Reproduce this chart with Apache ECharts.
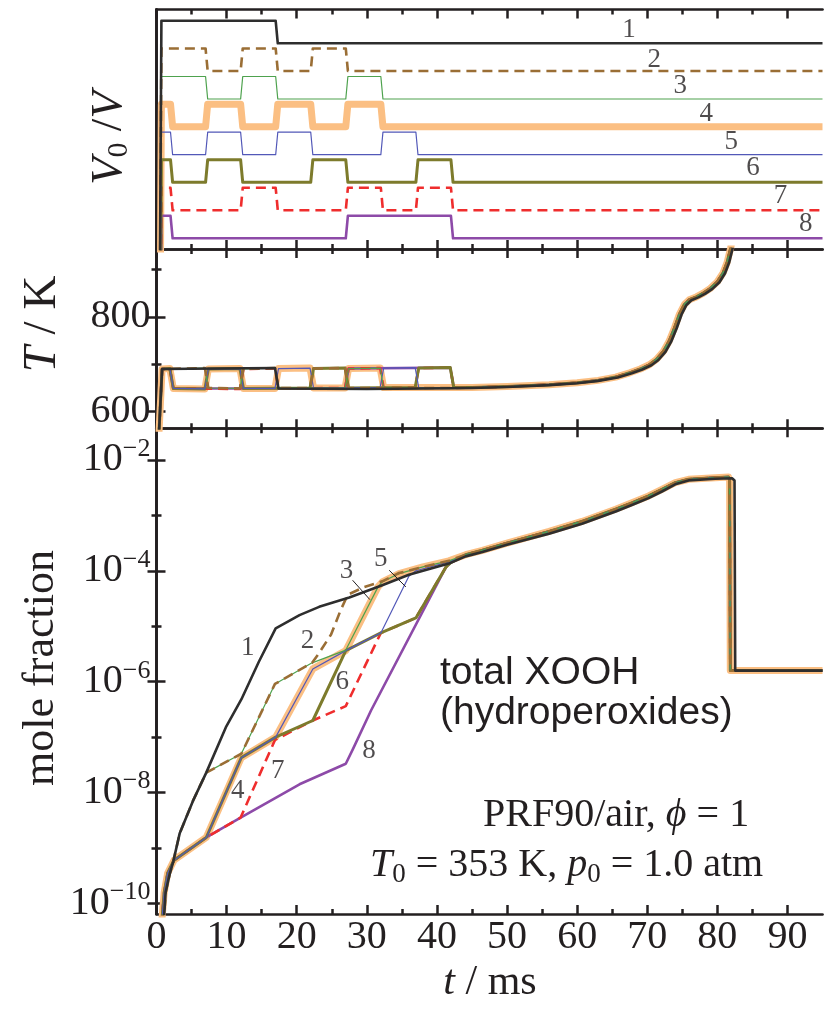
<!DOCTYPE html>
<html><head><meta charset="utf-8">
<script src="https://cdn.jsdelivr.net/npm/echarts@6/dist/echarts.min.js"></script>
<style>html,body{margin:0;padding:0;background:#fff}#c{width:836px;height:1009px}</style>
</head><body><div id="c"></div>
<script>
// ---------------- DATA ----------------
const timeTicksMajor = [0,10,20,30,40,50,60,70,80,90];
const timeTicksMinor = [5,15,25,35,45,55,65,75,85];
const tempTicksMajor = [600,800];
const tempTicksMinor = [700,900];
const logTicksMajor = [-10,-8,-6,-4,-2];
const logTicksMinor = [-9,-7,-5,-3];
const caseNames = ['1','2','3','4','5','6','7','8'];

// V0/V schedules (1 = compressed, 0 = expanded), t in ms
const vol1 = [[0.3,-20],[0.7,1],[17,1],[17.3,0],[95,0]];
const vol2 = [[0.3,-20],[0.7,1],[7,1],[7.3,0],[12,0],[12.3,1],[17,1],[17.3,0],[22,0],[22.3,1],[27,1],[27.3,0],[95,0]];
const vol3 = [[0.3,-20],[0.7,1],[7,1],[7.3,0],[12,0],[12.3,1],[17,1],[17.3,0],[27,0],[27.3,1],[32,1],[32.3,0],[95,0]];
const vol4 = [[0.3,-20],[0.7,1],[2,1],[2.3,0],[7,0],[7.3,1],[12,1],[12.3,0],[17,0],[17.3,1],[22,1],[22.3,0],[27,0],[27.3,1],[32,1],[32.3,0],[95,0]];
const vol5 = [[0.3,-20],[0.7,1],[2,1],[2.3,0],[7,0],[7.3,1],[12,1],[12.3,0],[17,0],[17.3,1],[22,1],[22.3,0],[32,0],[32.3,1],[37,1],[37.3,0],[95,0]];
const vol6 = [[0.3,-20],[0.7,1],[2,1],[2.3,0],[7,0],[7.3,1],[12,1],[12.3,0],[22,0],[22.3,1],[27,1],[27.3,0],[37,0],[37.3,1],[42,1],[42.3,0],[95,0]];
const vol7 = [[0.3,-20],[0.7,1],[2,1],[2.3,0],[12,0],[12.3,1],[17,1],[17.3,0],[27,0],[27.3,1],[32,1],[32.3,0],[37,0],[37.3,1],[42,1],[42.3,0],[95,0]];
const vol8 = [[0.3,-20],[0.7,1],[2,1],[2.3,0],[27,0],[27.3,1],[42,1],[42.3,0],[95,0]];

// Temperature / K
const tempLateBlack = [[45,650],[50,652],[56,656],[60,660],[63,665],[65.8,672],[67.8,681],[69.3,689],[70.6,698],[71.6,709],[72.6,726],[73.4,747],[74.2,776],[74.9,805],[75.6,825],[76.3,835],[77.3,841],[78.3,849],[79.3,859],[80.3,873],[81.1,892],[81.7,915],[82.2,945],[82.6,975]];
const tempLateOthers = [[45,651],[50,653],[56,657],[60,661],[63,666],[65.5,673],[67.5,682],[69,690],[70.3,699],[71.3,710],[72.3,727],[73.1,748],[73.9,777],[74.6,806],[75.3,826],[76,836],[77,842],[78,850],[79,860],[80,874],[80.8,892],[81.4,915],[81.9,945],[82.3,975]];
const temp1 = [[0.3,540],[0.8,690],[16.9,692],[17.4,649],[30,648],[42,649.5]];
const temp2 = [[0.3,540],[0.8,690],[6.9,692],[7.4,650],[11.9,649],[12.4,690],[16.9,692],[17.4,650],[21.9,650],[22.4,691],[26.9,692],[27.4,650],[42,650]];
const temp3 = [[0.3,540],[0.8,690],[6.9,692],[7.4,650],[11.9,649],[12.4,690],[16.9,692],[17.4,650],[26.9,650],[27.4,691],[31.9,692],[32.4,650],[42,650]];
const temp4 = [[0.3,540],[0.8,690],[1.9,691],[2.4,649],[6.9,648],[7.4,690],[11.9,691],[12.4,649],[16.9,649],[17.4,691],[21.9,692],[22.4,650],[26.9,650],[27.4,691],[31.9,692],[32.4,651],[42,651]];
const temp5 = [[0.3,540],[0.8,690],[1.9,691],[2.4,649],[6.9,648],[7.4,690],[11.9,691],[12.4,649],[16.9,649],[17.4,691],[21.9,692],[22.4,650],[31.9,651],[32.4,692],[36.9,693],[37.4,651],[42,651]];
const temp6 = [[0.3,540],[0.8,690],[1.9,691],[2.4,649],[6.9,648],[7.4,690],[11.9,691],[12.4,649],[21.9,650],[22.4,691],[26.9,692],[27.4,650],[36.9,651],[37.4,692],[41.9,693],[42.4,651]];
const temp7 = [[0.3,540],[0.8,690],[1.9,691],[2.4,649],[11.9,648],[12.4,690],[16.9,691],[17.4,649],[26.9,650],[27.4,691],[31.9,692],[32.4,650],[36.9,651],[37.4,692],[41.9,693],[42.4,651]];
const temp8 = [[0.3,540],[0.8,690],[1.9,691],[2.4,649],[26.9,649],[27.4,691],[41.9,693],[42.4,651]];

// total XOOH mole fraction, stored as log10(mole fraction)
const xoohLate = [[44.1,-3.71],[46.5,-3.63],[50,-3.50],[56,-3.29],[60.7,-3.11],[65.5,-2.89],[67.9,-2.77],[70.2,-2.65],[72.1,-2.53],[74,-2.41],[75.9,-2.35],[79.7,-2.32],[81.6,-2.31],[81.75,-2.36],[81.85,-5.8],[95,-5.8]];
const xooh1 = [[1.0,-10.4],[1.3,-9.8],[1.9,-9.46],[2.4,-9.24],[3.3,-8.74],[5.2,-8.15],[7.1,-7.64],[9.9,-6.82],[12.1,-6.32],[14.6,-5.64],[17.0,-5.04],[20.4,-4.80],[23.2,-4.65],[27.5,-4.48],[32.2,-4.26],[36.0,-4.07],[41.7,-3.87],[44.1,-3.74],[46.5,-3.66],[50,-3.53],[56,-3.33],[60.7,-3.15],[65.5,-2.93],[67.9,-2.81],[70.2,-2.69],[72.1,-2.57],[74,-2.44],[75.9,-2.37],[79.7,-2.34],[82.1,-2.33],[82.45,-2.37],[82.55,-5.8],[95,-5.8]];
const xooh2 = [[1.0,-10.4],[1.3,-9.8],[1.9,-9.46],[2.4,-9.24],[3.3,-8.74],[5.2,-8.15],[7.1,-7.64],[12.1,-7.30],[16.9,-6.04],[22.2,-5.66],[23.0,-5.52],[24.9,-5.15],[26.3,-4.70],[27.3,-4.43],[29.5,-4.30],[32.2,-4.19],[34.6,-4.04],[38,-3.93],[41.7,-3.82]];
const xooh3 = [[1.0,-10.4],[1.3,-9.8],[1.9,-9.46],[2.4,-9.24],[3.3,-8.74],[5.2,-8.15],[7.1,-7.64],[12.1,-7.30],[16.9,-6.04],[22.2,-5.66],[27.0,-5.43],[31.6,-4.29],[32.2,-4.20],[34.6,-4.05],[38,-3.93],[41.7,-3.82]];
const xooh4 = [[0.7,-10.4],[1.1,-9.8],[1.6,-9.45],[2.5,-9.22],[7.1,-8.81],[12.1,-7.37],[17.0,-7.0],[22.3,-5.77],[27.0,-5.44],[31.6,-4.29],[32.2,-4.20],[34.6,-4.05],[38,-3.93],[41.7,-3.82]];
const xooh5 = [[0.7,-10.4],[1.1,-9.8],[1.6,-9.45],[2.5,-9.22],[7.1,-8.81],[12.1,-7.37],[17.0,-7.0],[22.3,-5.77],[27.0,-5.44],[32.0,-5.12],[36.0,-4.10],[37.0,-4.00],[41.7,-3.84]];
const xooh6 = [[0.7,-10.4],[1.1,-9.8],[1.6,-9.45],[2.5,-9.22],[7.1,-8.81],[12.1,-7.37],[17.0,-7.0],[22.3,-6.70],[27.0,-5.44],[32.0,-5.12],[37.0,-4.85],[41.3,-3.93],[42.0,-3.85]];
const xooh7 = [[0.7,-10.4],[1.1,-9.8],[1.6,-9.45],[2.5,-9.22],[7.1,-8.81],[12.0,-8.45],[16.9,-7.05],[22.3,-6.70],[27.0,-6.44],[32.0,-5.12],[37.0,-4.85],[41.3,-3.93],[42.0,-3.85]];
const xooh8 = [[0.7,-10.4],[1.1,-9.8],[1.6,-9.45],[2.5,-9.22],[7.1,-8.81],[12.0,-8.45],[20.4,-7.85],[27.0,-7.48],[28.0,-7.22],[30.6,-6.52],[41.3,-3.93],[42.0,-3.85]];

// ---------------- PRESENTATION ----------------
const AX = '#231f20';
const SERIF = 'Liberation Serif';
const SANS = 'Liberation Sans';
const styles = [
  {color:'#2e2e2e', width:2.6},
  {color:'#9a6e35', width:2.6, type:[10,6]},
  {color:'#4ea24e', width:1.2},
  {color:'#fbbf83', width:7},
  {color:'#5258b8', width:1.2},
  {color:'#7d7b2c', width:3},
  {color:'#ef2d2d', width:2.6, type:[10,6]},
  {color:'#8d4aa8', width:2.6}
];
const drawOrder = [3,7,6,5,4,2,1,0];
const vols = [vol1,vol2,vol3,vol4,vol5,vol6,vol7,vol8];
const temps = [temp1,temp2,temp3,temp4,temp5,temp6,temp7,temp8];
const xoohs = [xooh1,xooh2,xooh3,xooh4,xooh5,xooh6,xooh7,xooh8];
const volUnitMax = 10.644;
const volOffsets = [9.142,7.911,6.667,5.436,4.191,2.964,1.720,0.476];
// label anchors (annotation positions, in data coords)
const volLabelPos = [[67.4,9.73],[71.0,8.4],[74.7,7.24],[78.4,6.0],[82.0,4.76],[85.1,3.6],[89.0,2.36],[92.6,1.11]];
const xoohLabelPos = [[13.0,-5.39],[21.55,-5.26],[27.1,-4.0],[11.6,-7.97],[32.0,-3.79],[26.5,-6.01],[17.3,-7.61],[30.3,-7.24]];
const leader3 = [[27.97,-4.17],[30.44,-4.52]];
const leader5 = [[33.19,-3.99],[35.57,-4.29]];

const grids = [
  {left:156.5, top:9.5, width:666, height:239.5},
  {left:156.5, top:249, width:666, height:179.3},
  {left:156.5, top:428.3, width:666, height:485.7}
];

const xAxis = [];
function addX(g, withLabels){
  const base = {type:'value', gridIndex:g, min:0, max:95, splitLine:{show:false}, axisPointer:{show:false}};
  const idx = xAxis.length;
  ['bottom','top'].forEach(pos=>{
    xAxis.push(Object.assign({}, base, {position:pos,
      axisLine:{show:true, lineStyle:{color:AX, width:2.7}},
      axisTick:{show:true, inside:true, length:9, lineStyle:{color:AX, width:2.5}, customValues:timeTicksMajor},
      axisLabel:{show: withLabels && pos==='bottom', customValues:timeTicksMajor, margin:3,
        fontFamily:SERIF, fontSize:40, color:'#231f20'}
    }));
    xAxis.push(Object.assign({}, base, {position:pos,
      axisLine:{show:false},
      axisTick:{show:true, inside:true, length:5, lineStyle:{color:AX, width:2.5}, customValues:timeTicksMinor},
      axisLabel:{show:false}
    }));
  });
  return idx;
}
const xV = addX(0,false), xT = addX(1,false), xX = addX(2,true);

const yAxis = [];
function addY(g, min, max, major, minor, labelFmt, richStyle){
  const idx = yAxis.length;
  ['left','right'].forEach(pos=>{
    yAxis.push({type:'value', gridIndex:g, position:pos, min:min, max:max, splitLine:{show:false},
      axisLine:{show:true, lineStyle:{color:AX, width:2.7}},
      axisTick:{show: !!major, inside:true, length:9, lineStyle:{color:AX,width:2.5}, customValues: major || []},
      axisLabel:{show: !!labelFmt && pos==='left', customValues: major || [], margin:6,
        formatter: labelFmt || undefined, fontFamily:SERIF, fontSize:40, color:'#231f20', rich: richStyle}
    });
    if (minor) yAxis.push({type:'value', gridIndex:g, position:pos, min:min, max:max, splitLine:{show:false},
      axisLine:{show:false},
      axisTick:{show:true, inside:true, length:5, lineStyle:{color:AX,width:2.5}, customValues: minor},
      axisLabel:{show:false}
    });
  });
  return idx;
}
const yV = addY(0, 0, volUnitMax, null, null, null);
const yT = addY(1, 565, 943, tempTicksMajor, tempTicksMinor, v=>String(v));
const yX = addY(2, -10.19, -1.43, logTicksMajor, logTicksMinor,
  v=>'{b|10}{s|−'+(-v)+'}',
  {b:{fontFamily:SERIF, fontSize:40, color:'#231f20'}, s:{fontFamily:SERIF, fontSize:26, color:'#231f20', padding:[0,0,22,0]}});

const series = [];
drawOrder.forEach(i=>{
  const ls = Object.assign({join:'round', cap:'butt'}, styles[i]);
  series.push({type:'line', xAxisIndex:xV, yAxisIndex:yV, data: vols[i].map(p=>[p[0], p[1]+volOffsets[i]]),
    showSymbol:false, symbol:'none', lineStyle:ls, silent:true, clip:true, z:2});
  series.push({type:'line', xAxisIndex:xT, yAxisIndex:yT, data: temps[i].concat(i===0?tempLateBlack:tempLateOthers),
    showSymbol:false, symbol:'none', lineStyle:ls, silent:true, clip:true, z:2});
  series.push({type:'line', xAxisIndex:xX, yAxisIndex:yX, data: i===0 ? xoohs[i] : xoohs[i].concat(xoohLate),
    showSymbol:false, symbol:'none', lineStyle:ls, silent:true, clip:true, z:2});
});
const numLabel = {show:true, position:'inside', formatter:p=>p.name, fontFamily:SERIF, fontSize:27, color:'#231f20'};
series.push({type:'scatter', xAxisIndex:xV, yAxisIndex:yV, symbolSize:0, silent:true, z:5,
  data: caseNames.map((n,i)=>({name:n, value:volLabelPos[i]})), label:numLabel});
series.push({type:'scatter', xAxisIndex:xX, yAxisIndex:yX, symbolSize:0, silent:true, z:5,
  data: caseNames.map((n,i)=>({name:n, value:xoohLabelPos[i]})), label:numLabel});
[leader3, leader5].forEach(d=>series.push({type:'line', xAxisIndex:xX, yAxisIndex:yX, data:d,
  showSymbol:false, symbol:'none', lineStyle:{color:'#231f20', width:1}, silent:true, z:4}));

const C = '#231f20';
function txt(x, y, text, align, extra){
  return Object.assign({type:'text', x:x, y:y, silent:true, z:10,
    style:{text:text, rich:R, align:align||'center', verticalAlign:'middle', fill:C, fontFamily:SERIF, fontSize:40}}, extra||{});
}
const R = {
  n:{fontFamily:SERIF, fontSize:45, fill:C},
  i:{fontFamily:SERIF, fontStyle:'italic', fontSize:45, fill:C},
  sub:{fontFamily:SERIF, fontSize:30, fill:C, padding:[20,0,0,0]},
  tn:{fontFamily:SERIF, fontSize:47, fill:C},
  ti:{fontFamily:SERIF, fontStyle:'italic', fontSize:47, fill:C},
  mf:{fontFamily:SERIF, fontSize:44, fill:C},
  xn:{fontFamily:SERIF, fontSize:42, fill:C},
  xi:{fontFamily:SERIF, fontStyle:'italic', fontSize:42, fill:C},
  sn:{fontFamily:SANS, fontSize:39, fill:C},
  m:{fontFamily:SERIF, fontSize:40, fill:C},
  mi:{fontFamily:SERIF, fontStyle:'italic', fontSize:40, fill:C},
  msub:{fontFamily:SERIF, fontSize:27, fill:C, padding:[20,0,0,0]}
};
const ROT = {rotation:Math.PI/2};
const graphic = [
  txt(109,138,'{i|V}{sub|0}{n| /}{i|V}','center',ROT),
  txt(43,324,'{ti|T}{tn| / K}','center',ROT),
  txt(41,668,'{mf|mole fraction}','center',ROT),
  txt(490,983,'{xi|t}{xn| / ms}','center'),
  txt(440,673,'{sn|total XOOH}','left'),
  txt(440,713,'{sn|(hydroperoxides)}','left'),
  txt(483,815,'{m|PRF90/air, }{mi|ϕ}{m| = 1}','left'),
  txt(370,865,'{mi|T}{msub|0}{m| = 353 K, }{mi|p}{msub|0}{m| = 1.0 atm}','left')
];

const chart = echarts.init(document.getElementById('c'), null, {renderer:'canvas'});
chart.setOption({animation:false, backgroundColor:'#fff', grid:grids, xAxis:xAxis, yAxis:yAxis, series:series, graphic:graphic});
</script></body></html>
